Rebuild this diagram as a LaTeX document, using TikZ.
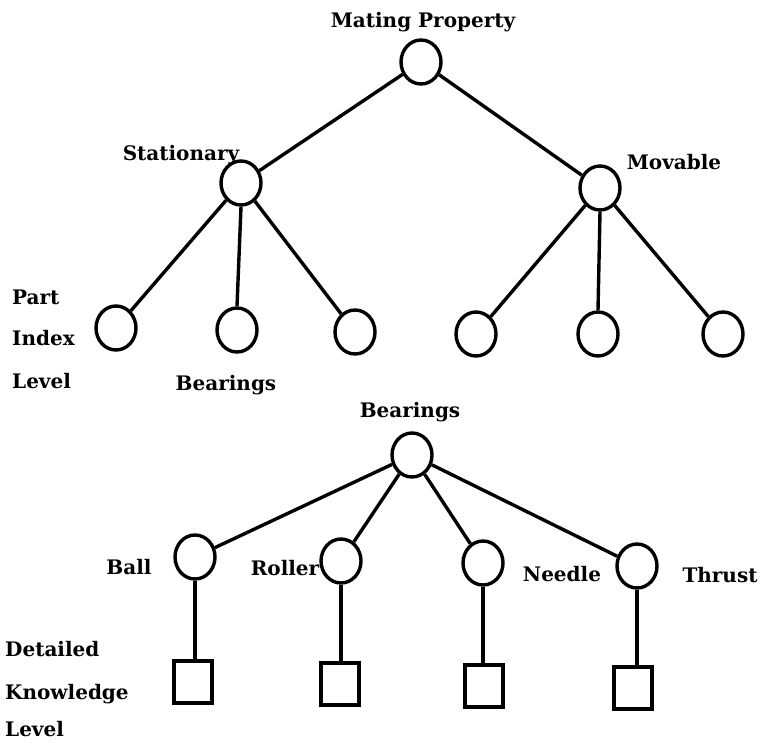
\documentclass[tikz,border=0pt]{standalone}
\usepackage{fontspec}
\setmainfont{DejaVu Serif}
\usetikzlibrary{shapes.geometric}
\begin{document}
\begin{tikzpicture}[x=1pt,y=-1pt,
  every node/.style={font=\bfseries\fontsize{20}{22}\selectfont},
  vertex/.style={draw,ellipse,line width=3.4pt,minimum width=40pt,minimum height=44pt,inner sep=0pt},
  leafbox/.style={draw,rectangle,line width=3.4pt,minimum width=38pt,minimum height=42pt,inner sep=0pt},
  link/.style={line width=3.4pt},
  lbl/.style={inner sep=0pt},
  lvl/.style={inner sep=0pt,anchor=west}]
\useasboundingbox (0,0) rectangle (762,744);
% part index level
\node[vertex] (mp) at (421,62) {};
\node[vertex] (st) at (241,183) {};
\node[vertex] (mv) at (600,188) {};
\node[vertex] (s1) at (116,328) {};
\node[vertex] (s2) at (237,330) {};
\node[vertex] (s3) at (355,332) {};
\node[vertex] (m1) at (476,334) {};
\node[vertex] (m2) at (598,334) {};
\node[vertex] (m3) at (723,334) {};
\draw[link] (mp) -- (st);
\draw[link] (mp) -- (mv);
\draw[link] (st) -- (s1);
\draw[link] (st.south) -- (s2.north);
\draw[link] (st) -- (s3);
\draw[link] (mv) -- (m1);
\draw[link] (mv.south) -- (m2.north);
\draw[link] (mv) -- (m3);
\node[lbl] (tmp) at (423,22) {Mating Property};
\node[lbl] (tst) at (181,155) {Stationary};
\node[lbl] (tmv) at (674,162) {Movable};
\node[lvl] (tp1) at (12,297) {Part};
\node[lvl] (tp2) at (12,338) {Index};
\node[lvl] (tp3) at (12,381) {Level};
\node[lbl] (tbr1) at (226,385) {Bearings};
% detailed knowledge level
\node[vertex] (br) at (412,455) {};
\node[vertex] (ba) at (195,557) {};
\node[vertex] (ro) at (341,561) {};
\node[vertex] (ne) at (483,563) {};
\node[vertex] (th) at (637,566) {};
\draw[link] (br) -- (ba);
\draw[link] (br) -- (ro);
\draw[link] (br) -- (ne);
\draw[link] (br) -- (th);
\node[leafbox] (q1) at (193,682) {};
\node[leafbox] (q2) at (340,684) {};
\node[leafbox] (q3) at (484,686) {};
\node[leafbox] (q4) at (633,688) {};
\draw[link] (ba.south) -- (ba.south |- q1.north);
\draw[link] (ro.south) -- (ro.south |- q2.north);
\draw[link] (ne.south) -- (ne.south |- q3.north);
\draw[link] (th.south) -- (th.south |- q4.north);
\node[lbl] (tbr2) at (410,412) {Bearings};
\node[lbl] (tba) at (129,567) {Ball};
\node[lbl] (tro) at (285,568) {Roller};
\node[lbl] (tne) at (562,574) {Needle};
\node[lbl] (tth) at (720,575) {Thrust};
\node[lvl] (td1) at (5,649) {Detailed};
\node[lvl] (td2) at (5,694) {Knowledge};
\node[lvl] (td3) at (5,729) {Level};
\end{tikzpicture}
\end{document}
